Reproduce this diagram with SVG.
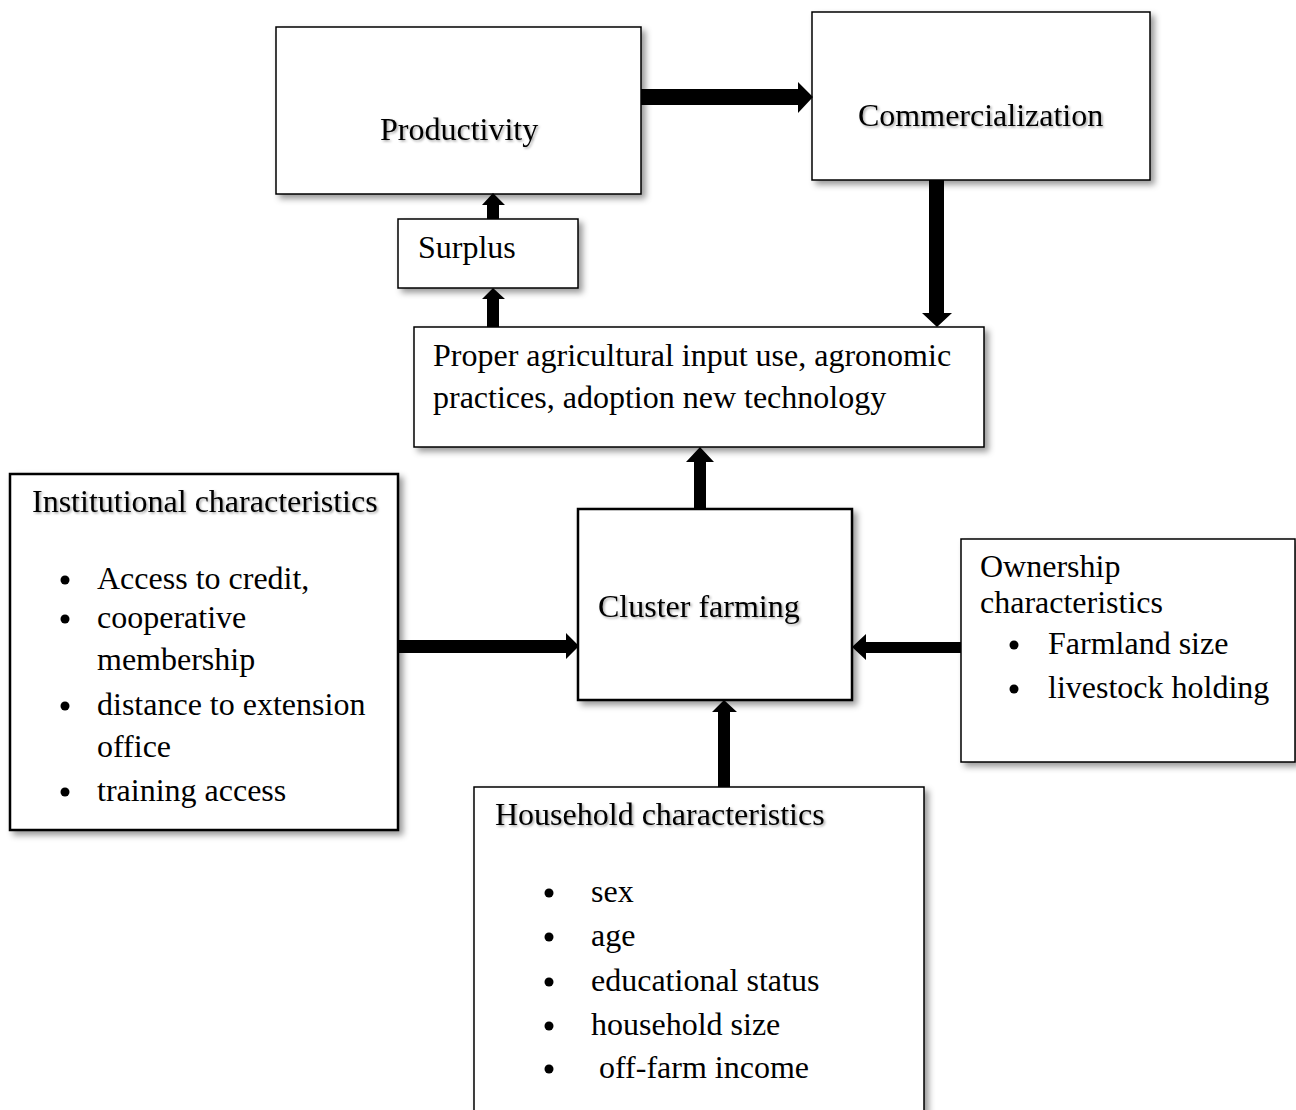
<svg xmlns="http://www.w3.org/2000/svg" width="1296" height="1110" viewBox="0 0 1296 1110">
<defs>
<filter id="sh" x="-10%" y="-10%" width="130%" height="130%">
<feDropShadow dx="4" dy="4" stdDeviation="3" flood-color="#000" flood-opacity="0.4"/>
</filter>
<filter id="tsh" x="-5%" y="-20%" width="110%" height="150%">
<feDropShadow dx="1.5" dy="1.5" stdDeviation="1.2" flood-color="#000" flood-opacity="0.35"/>
</filter>
</defs>
<style>
.box{fill:#fff;stroke:#000;stroke-width:1.5;filter:url(#sh)}
.bold{stroke-width:2.5}
text{font-family:"Liberation Serif","Times New Roman",serif;font-size:32px;fill:#000}
.t{filter:url(#tsh)}
.arr{fill:#000}
.dot{fill:#000}
</style>
<rect width="1296" height="1110" fill="#fff"/>
<g id="productivity">
<rect class="box" x="276" y="27" width="365" height="167"/>
<text class="t" x="380" y="140">Productivity</text>
</g>
<g id="commercialization">
<rect class="box" x="812" y="12" width="338" height="168"/>
<text class="t" x="858" y="126">Commercialization</text>
</g>
<g id="surplus">
<rect class="box" x="398" y="219" width="180" height="69"/>
<text x="418" y="258">Surplus</text>
</g>
<g id="practices">
<rect class="box" x="414" y="327" width="570" height="120"/>
<text x="433" y="366">Proper agricultural input use, agronomic</text>
<text x="433" y="408">practices, adoption new technology</text>
</g>
<g id="cluster">
<rect class="box bold" x="578" y="509" width="274" height="191"/>
<text class="t" x="598" y="617">Cluster farming</text>
</g>
<g id="institutional">
<rect class="box bold" x="10" y="474" width="388" height="356"/>
<text class="t" x="32" y="512">Institutional characteristics</text>
<circle class="dot" cx="65" cy="580" r="4.5"/>
<text x="97" y="589">Access to credit,</text>
<circle class="dot" cx="65" cy="619" r="4.5"/>
<text x="97" y="628">cooperative</text>
<text x="97" y="670">membership</text>
<circle class="dot" cx="65" cy="706" r="4.5"/>
<text x="97" y="715">distance to extension</text>
<text x="97" y="757">office</text>
<circle class="dot" cx="65" cy="792" r="4.5"/>
<text x="97" y="801">training access</text>
</g>
<g id="ownership">
<rect class="box" x="961" y="539" width="334" height="223"/>
<text x="980" y="577">Ownership</text>
<text x="980" y="613">characteristics</text>
<circle class="dot" cx="1014" cy="645" r="4.5"/>
<text x="1048" y="654">Farmland size</text>
<circle class="dot" cx="1014" cy="689" r="4.5"/>
<text x="1048" y="698">livestock holding</text>
</g>
<g id="household">
<rect class="box" x="474" y="787" width="450" height="340"/>
<text class="t" x="495" y="825">Household characteristics</text>
<circle class="dot" cx="549" cy="893" r="4.5"/>
<text x="591" y="902">sex</text>
<circle class="dot" cx="549" cy="937" r="4.5"/>
<text x="591" y="946">age</text>
<circle class="dot" cx="549" cy="982" r="4.5"/>
<text x="591" y="991">educational status</text>
<circle class="dot" cx="549" cy="1026" r="4.5"/>
<text x="591" y="1035">household size</text>
<circle class="dot" cx="549" cy="1069" r="4.5"/>
<text x="591" y="1078" xml:space="preserve"> off-farm income</text>
</g>
<g id="connectors">
<polygon class="arr" points="641,89 798,89 798,82 813,97 798,113 798,105 641,105"/>
<polygon class="arr" points="487,219 487,205 482,205 493,193 505,205 499,205 499,219"/>
<polygon class="arr" points="487,327 487,299 482,299 493,288 505,299 499,299 499,327"/>
<polygon class="arr" points="929,180 944,180 944,313 952,313 937,327 922,313 929,313"/>
<polygon class="arr" points="694,509 706,509 706,462 714,462 700,447 686,462 694,462"/>
<polygon class="arr" points="398,640 566,640 566,633 579,646 566,659 566,653 398,653"/>
<polygon class="arr" points="961,642 866,642 866,634 852,647 866,660 866,653 961,653"/>
<polygon class="arr" points="718,787 718,712 712,712 724,700 737,712 730,712 730,787"/>
</g>
</svg>
